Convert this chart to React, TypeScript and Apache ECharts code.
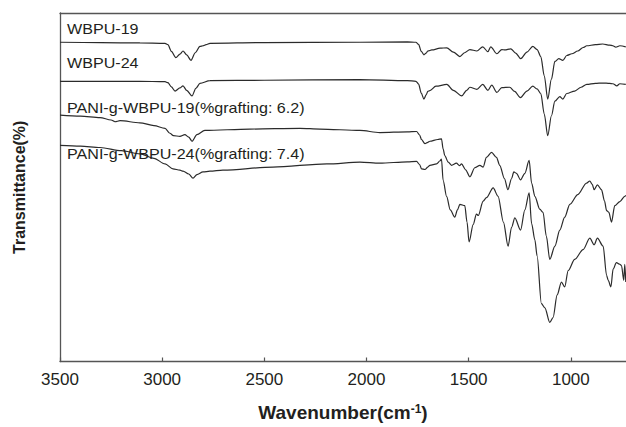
import React, { useEffect, useRef } from "react";
import * as echarts from "echarts";

// FTIR spectra: [wavenumber (cm-1), transmittance (a.u., stacked offsets)]
const wbpu19: [number, number][] = [
  [3500, 91.6], [3300, 91.5], [3109, 91.4], [2986, 91.3], [2972, 90.9], [2955, 89.0],
  [2933, 87.2], [2913, 88.2], [2898, 89.1], [2880, 88.0], [2859, 86.4], [2838, 88.6],
  [2815, 90.4], [2800, 90.6], [2785, 90.9], [2766, 91.3], [2500, 91.5], [2032, 91.6],
  [1800, 91.7], [1758, 91.6], [1745, 91.0], [1732, 89.0], [1719, 88.0], [1708, 88.5],
  [1700, 89.1], [1680, 89.4], [1640, 89.9], [1607, 90.0], [1575, 88.8], [1543, 87.5],
  [1520, 88.6], [1494, 89.5], [1460, 89.1], [1431, 90.3], [1406, 88.9], [1392, 90.3],
  [1362, 88.3], [1338, 89.5], [1323, 89.4], [1294, 89.7], [1270, 88.5], [1245, 86.9],
  [1215, 88.8], [1186, 90.4], [1165, 89.5], [1147, 87.5], [1130, 82.0], [1113, 75.3],
  [1095, 81.0], [1078, 86.1], [1059, 86.9], [1039, 86.4], [1020, 87.8], [995, 88.3],
  [966, 89.1], [940, 90.1], [922, 90.6], [880, 90.9], [844, 91.1], [810, 90.8],
  [794, 90.6], [780, 90.2], [760, 90.6], [731, 90.3],
];

const wbpu24: [number, number][] = [
  [3500, 80.4], [3300, 80.4], [3109, 80.4], [2986, 80.3], [2972, 80.0], [2955, 78.8],
  [2937, 77.6], [2913, 78.5], [2898, 79.1], [2880, 77.8], [2854, 76.2], [2835, 78.4],
  [2815, 79.8], [2766, 80.6], [2500, 80.7], [2032, 80.9], [1800, 80.6], [1758, 80.4],
  [1745, 79.6], [1732, 77.0], [1719, 75.3], [1708, 76.5], [1700, 77.5], [1690, 77.7],
  [1660, 79.0], [1607, 79.5], [1575, 77.8], [1534, 76.2], [1510, 77.8], [1494, 78.7],
  [1460, 78.1], [1431, 79.5], [1406, 77.8], [1387, 79.3], [1362, 77.2], [1338, 78.6],
  [1299, 78.7], [1275, 77.5], [1247, 75.7], [1215, 77.6], [1186, 79.0], [1165, 78.2],
  [1147, 76.9], [1130, 71.0], [1113, 64.8], [1095, 70.5], [1078, 74.7], [1054, 76.0],
  [1039, 75.3], [1020, 76.9], [981, 77.6], [950, 78.7], [922, 79.5], [880, 79.8],
  [844, 79.9], [810, 79.8], [794, 79.7], [775, 79.1], [760, 79.7], [731, 79.5],
];

const pani19: [number, number][] = [
  [3500, 70.7], [3400, 70.4], [3304, 70.0], [3250, 69.3], [3231, 68.8], [3206, 69.1],
  [3109, 68.5], [3040, 67.7], [2986, 66.9], [2962, 65.5], [2945, 64.8], [2913, 64.6],
  [2889, 65.1], [2870, 64.4], [2854, 63.2], [2830, 65.1], [2791, 66.3], [2571, 66.7],
  [2326, 66.9], [2228, 66.7], [2032, 66.3], [1935, 65.7], [1800, 65.9], [1755, 66.0],
  [1740, 65.0], [1731, 63.7], [1714, 62.5], [1700, 62.9], [1690, 63.2], [1651, 63.7],
  [1633, 63.9], [1625, 61.0], [1617, 59.1], [1600, 57.2], [1584, 56.3], [1560, 56.9],
  [1545, 56.2], [1535, 56.7], [1515, 55.0], [1494, 53.0], [1470, 55.6], [1445, 56.3],
  [1429, 55.8], [1413, 58.6], [1388, 60.0], [1364, 58.6], [1348, 56.3], [1325, 52.5],
  [1308, 49.3], [1290, 52.5], [1279, 54.4], [1266, 54.0], [1246, 52.1], [1225, 54.0],
  [1204, 57.7], [1192, 51.2], [1176, 47.4], [1152, 43.7], [1136, 42.8], [1120, 36.0],
  [1103, 29.3], [1078, 33.1], [1054, 37.7], [1030, 41.4], [1005, 45.1], [966, 47.9],
  [923, 51.2], [907, 51.8], [895, 50.8], [886, 49.3], [870, 50.7], [850, 49.3],
  [835, 46.0], [825, 43.3], [814, 42.8], [801, 40.0], [785, 44.7], [760, 45.9],
  [736, 47.4], [731, 47.7],
];

const pani24: [number, number][] = [
  [3500, 62.0], [3400, 61.8], [3304, 61.4], [3200, 60.5], [3109, 59.6], [3040, 58.3],
  [2986, 56.7], [2947, 55.3], [2913, 54.9], [2898, 54.6], [2870, 53.8], [2849, 52.6],
  [2830, 53.6], [2800, 54.4], [2766, 54.6], [2703, 54.9], [2458, 55.8], [2194, 56.7],
  [2032, 57.2], [1935, 56.9], [1800, 57.3], [1755, 57.4], [1740, 56.5], [1731, 55.3],
  [1714, 55.1], [1700, 55.8], [1690, 56.3], [1657, 56.7], [1640, 57.6], [1633, 58.1],
  [1625, 52.0], [1608, 47.4], [1590, 43.5], [1568, 41.4], [1555, 43.5], [1543, 45.1],
  [1519, 44.7], [1508, 40.0], [1498, 34.3], [1478, 39.3], [1462, 42.3], [1453, 41.9],
  [1429, 46.0], [1413, 47.0], [1380, 49.8], [1356, 47.4], [1330, 40.0], [1307, 33.1],
  [1290, 38.5], [1274, 41.2], [1246, 37.7], [1225, 43.5], [1204, 48.4], [1192, 39.6],
  [1176, 34.9], [1165, 30.3], [1144, 16.6], [1127, 15.4], [1103, 11.2], [1087, 12.6],
  [1067, 19.1], [1046, 22.8], [1030, 21.4], [1013, 26.1], [981, 29.3], [940, 32.1],
  [907, 35.4], [886, 33.5], [870, 35.4], [842, 33.1], [825, 24.7], [817, 23.3],
  [804, 21.4], [793, 26.5], [777, 28.4], [760, 27.9], [752, 27.5], [741, 23.3],
  [736, 27.9], [731, 22.8],
];

const sampleNames = [
  "WBPU-19",
  "WBPU-24",
  "PANI-g-WBPU-19(%grafting: 6.2)",
  "PANI-g-WBPU-24(%grafting: 7.4)",
];
const spectra = [wbpu19, wbpu24, pani19, pani24];

const xTicks = [3500, 3000, 2500, 2000, 1500, 1000];
const xMin = 730;
const xMax = 3500;

const FONT = "'Liberation Sans', Arial, Helvetica, sans-serif";
const INK = "#231f20";
const AXIS = "#555";

export default function App() {
  const ref = useRef<HTMLDivElement>(null);

  useEffect(() => {
    if (!ref.current) return;
    const chart = echarts.init(ref.current, null, { renderer: "svg" });

    // vertical centre of each sample's caption, px
    const labelY = [28.8, 63.2, 107.8, 153.8];

    chart.setOption({
      animation: false,
      backgroundColor: "#fff",
      grid: { left: 60, top: 13, right: 0, bottom: 55 },
      xAxis: [
        {
          type: "value",
          min: xMin,
          max: xMax,
          inverse: true,
          splitNumber: 6,
          axisLine: { show: true, lineStyle: { color: AXIS, width: 1.3 } },
          axisTick: {
            show: true,
            inside: true,
            length: 4,
            customValues: xTicks,
            lineStyle: { color: AXIS, width: 1.2 },
          },
          axisLabel: {
            customValues: xTicks,
            formatter: (v: number) => (xTicks.includes(v) ? String(v) : ""),
            fontSize: 17,
            fontFamily: FONT,
            color: INK,
            margin: 9,
          },
          splitLine: { show: false },
          name: "Wavenumber(cm{sup|-1})",
          nameLocation: "middle",
          nameGap: 41,
          nameTextStyle: {
            fontSize: 19,
            fontWeight: "bold",
            fontFamily: FONT,
            color: INK,
            rich: {
              sup: {
                fontSize: 12,
                fontWeight: "bold",
                fontFamily: FONT,
                color: INK,
                verticalAlign: "top",
                padding: [0, 0, 8, 0],
              },
            },
          },
        },
        {
          type: "value",
          position: "top",
          min: xMin,
          max: xMax,
          inverse: true,
          axisLine: { show: true, onZero: false, lineStyle: { color: AXIS, width: 1.3 } },
          axisTick: { show: false },
          axisLabel: { show: false },
          splitLine: { show: false },
        },
      ],
      yAxis: {
        type: "value",
        min: 0,
        max: 100,
        axisLine: { show: true, lineStyle: { color: AXIS, width: 1.3 } },
        axisTick: { show: false },
        axisLabel: { show: false },
        splitLine: { show: false },
        name: "Transmittance(%)",
        nameLocation: "middle",
        nameGap: 33,
        nameTextStyle: {
          fontSize: 16,
          fontWeight: "bold",
          fontFamily: FONT,
          color: INK,
        },
      },
      series: spectra.map((data, i) => ({
        name: sampleNames[i],
        type: "line",
        xAxisIndex: 0,
        data,
        showSymbol: false,
        symbol: "none",
        smooth: 0.3,
        smoothMonotone: "x",
        lineStyle: { color: "#2b2b2b", width: 1.2 },
      })),
      graphic: sampleNames.map((text, i) => ({
        type: "text",
        x: 67,
        y: labelY[i],
        scaleX: 1.15,
        z: 10,
        style: {
          text,
          font: `14px ${FONT}`,
          fill: INK,
          verticalAlign: "middle",
        },
      })),
    });

    return () => chart.dispose();
  }, []);

  return (
    <div
      ref={ref}
      style={{ position: "fixed", left: 0, top: 0, width: 626, height: 427, background: "#fff" }}
    />
  );
}
